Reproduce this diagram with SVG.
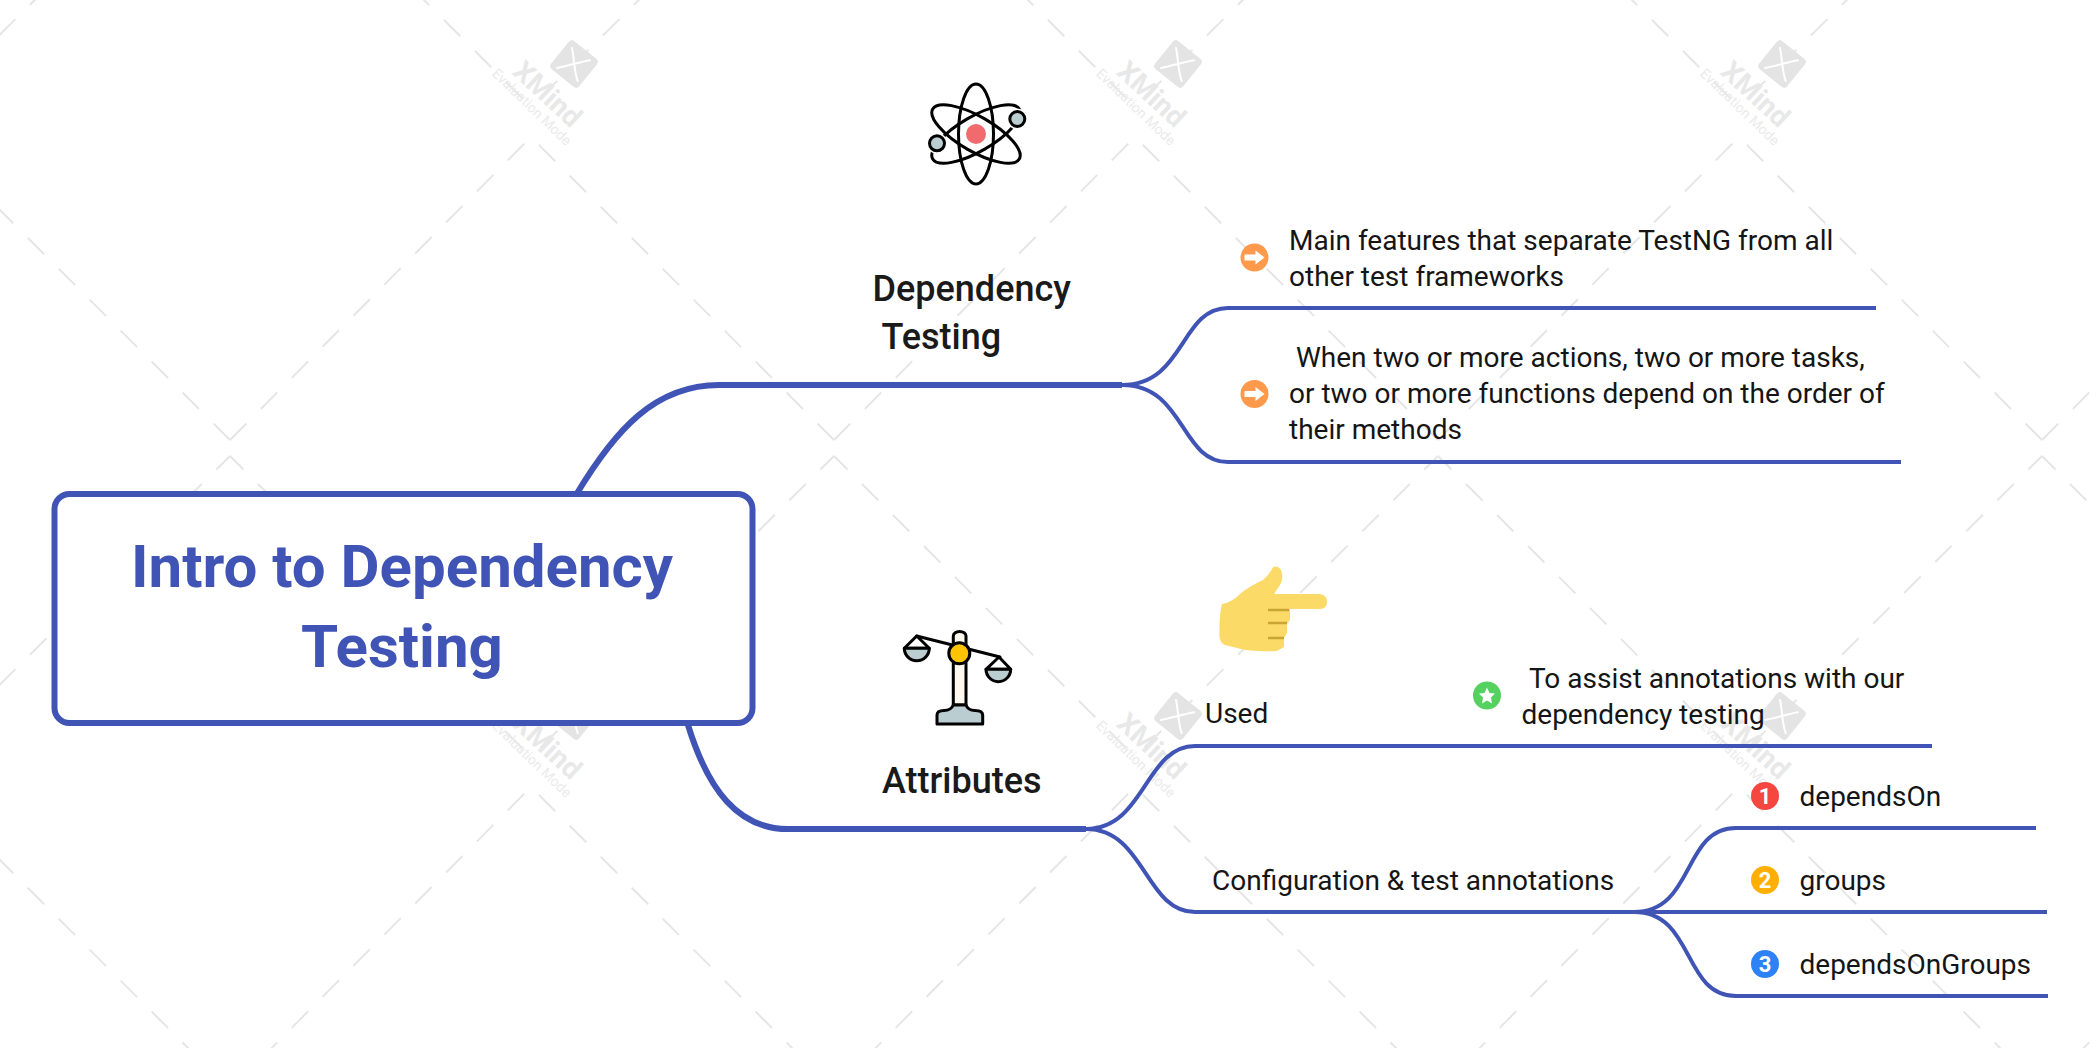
<svg xmlns="http://www.w3.org/2000/svg" xmlns:xlink="http://www.w3.org/1999/xlink" width="2098" height="1048" viewBox="0 0 2098 1048">
<style>
text{font-family:Roboto,"Liberation Sans",sans-serif}
.t{font-size:28px;fill:#151515}
.h{font-size:36px;font-weight:500;fill:#1a1a1a}
.c{font-size:60px;font-weight:700;fill:#4054B6;text-anchor:middle}
.n{font-size:22px;font-weight:700;fill:#fff;text-anchor:middle}
.thick{fill:none;stroke:#4054B6;stroke-width:6}
.thin{fill:none;stroke:#4054B6;stroke-width:4}
.wl{stroke:#E6E6E6;stroke-width:2;fill:none}
.d2{stroke-dasharray:23.3 20.5}
.d1{stroke-dasharray:23.3 20.5;stroke-dashoffset:4.2}
.wm1{font-size:28px;font-weight:700;fill:#E8E8E8;text-anchor:middle}
.wm2{font-size:14px;fill:#EBEBEB;text-anchor:middle}
.k{stroke:#000;stroke-width:3;stroke-linejoin:round;stroke-linecap:round}
</style>
<defs>
<g id="tile">
<path class="wl d2" d="M230,440L531,137"/>
<path class="wl d2" d="M834,440L531,137"/>
<path class="wl d1" d="M230,456L531,757"/>
<path class="wl d1" d="M834,456L531,757"/>
</g>
<g id="wmlogo">
<rect x="-18" y="-18" width="36" height="36" rx="4" fill="#E4E4E4" transform="rotate(39)"/>
<path d="M-2,-16C0,-8 0,8 3.700,17M-17,4C-6,2 6,-2 16,-3.700" fill="none" stroke="#fff" stroke-width="2" stroke-linecap="round"/>
</g>
</defs>
<rect width="2098" height="1048" fill="#fff"/>
<g id="watermark">
<use href="#tile" x="-604" y="-650"/><use href="#tile" x="0" y="-650"/><use href="#tile" x="604" y="-650"/><use href="#tile" x="1208" y="-650"/><use href="#tile" x="1812" y="-650"/>
<use href="#tile" x="-604" y="0"/><use href="#tile" x="0" y="0"/><use href="#tile" x="604" y="0"/><use href="#tile" x="1208" y="0"/><use href="#tile" x="1812" y="0"/>
<use href="#tile" x="-604" y="650"/><use href="#tile" x="0" y="650"/><use href="#tile" x="604" y="650"/><use href="#tile" x="1208" y="650"/><use href="#tile" x="1812" y="650"/>
<g transform="translate(574,64)"><use href="#wmlogo"/><text class="wm1" transform="translate(-33,37) rotate(43)">XMind</text><text class="wm2" transform="translate(-45.500,46.500) rotate(44)">Evaluation Mode</text></g>
<g transform="translate(1178,64)"><use href="#wmlogo"/><text class="wm1" transform="translate(-33,37) rotate(43)">XMind</text><text class="wm2" transform="translate(-45.500,46.500) rotate(44)">Evaluation Mode</text></g>
<g transform="translate(1782,64)"><use href="#wmlogo"/><text class="wm1" transform="translate(-33,37) rotate(43)">XMind</text><text class="wm2" transform="translate(-45.500,46.500) rotate(44)">Evaluation Mode</text></g>
<g transform="translate(574,716)"><use href="#wmlogo"/><text class="wm1" transform="translate(-33,37) rotate(43)">XMind</text><text class="wm2" transform="translate(-45.500,46.500) rotate(44)">Evaluation Mode</text></g>
<g transform="translate(1178,716)"><use href="#wmlogo"/><text class="wm1" transform="translate(-33,37) rotate(43)">XMind</text><text class="wm2" transform="translate(-45.500,46.500) rotate(44)">Evaluation Mode</text></g>
<g transform="translate(1782,716)"><use href="#wmlogo"/><text class="wm1" transform="translate(-33,37) rotate(43)">XMind</text><text class="wm2" transform="translate(-45.500,46.500) rotate(44)">Evaluation Mode</text></g>
</g>
<g id="connectors">
<path class="thick" d="M576,495C615,430 655,385 719,385H1122"/>
<path class="thick" d="M688,725C708,790 738,829 788,829H1086"/>
<path class="thin" d="M1122,385C1185,385 1180,308 1228,308H1876"/>
<path class="thin" d="M1122,385C1185,385 1180,462 1228,462H1901"/>
<path class="thin" d="M1086,829C1145,829 1145,746 1195,746H1932"/>
<path class="thin" d="M1086,829C1145,829 1145,912 1195,912H1634"/>
<path class="thin" d="M1634,912C1695,912 1682,828 1736,828H2036"/>
<path class="thin" d="M1634,912H2047"/>
<path class="thin" d="M1634,912C1695,912 1682,996 1736,996H2048"/>
</g>
<g id="central">
<rect x="54.500" y="494" width="698" height="229" rx="15" fill="#fff" stroke="#4054B6" stroke-width="6"/>
<text class="c" x="402" y="587">Intro to Dependency</text>
<text class="c" x="402" y="667">Testing</text>
</g>
<g id="dependency-testing">
<g fill="none" class="k">
<ellipse cx="976" cy="134" rx="17.500" ry="50"/>
<ellipse cx="976" cy="134" rx="50" ry="17.500" transform="rotate(30 976 134)"/>
<ellipse cx="976" cy="134" rx="50" ry="17.500" transform="rotate(-30 976 134)"/>
</g>
<circle cx="976" cy="134" r="10" fill="#F06A6E"/>
<circle cx="1017.300" cy="119" r="10.500" fill="#fff"/>
<circle cx="937" cy="143.300" r="10.500" fill="#fff"/>
<circle cx="1017.300" cy="119" r="7.500" fill="#BACDD0" class="k"/>
<circle cx="937" cy="143.300" r="7.500" fill="#BACDD0" class="k"/>
<text class="h" x="872.500" y="301">Dependency</text>
<text class="h" x="881.500" y="349">Testing</text>
</g>
<g id="feature-1">
<circle cx="1254.500" cy="257.500" r="14" fill="#FF9A4D"/>
<path d="M1244.500,254.500H1255.500V250.500L1264.500,257.500L1255.500,264.500V260.500H1244.500Z" fill="#fff"/>
<text class="t" x="1289" y="250">Main features that separate TestNG from all</text>
<text class="t" x="1289" y="286">other test frameworks</text>
</g>
<g id="feature-2">
<circle cx="1254.500" cy="394" r="14" fill="#FF9A4D"/>
<path d="M1244.500,391H1255.500V387L1264.500,394L1255.500,401V397H1244.500Z" fill="#fff"/>
<text class="t" x="1296" y="367">When two or more actions, two or more tasks,</text>
<text class="t" x="1289" y="403">or two or more functions depend on the order of</text>
<text class="t" x="1289" y="439">their methods</text>
</g>
<g id="attributes">
<path d="M953.300,705V636a6.300,4.500 0 0 1 12.700,0V705Z" fill="#FFF8EE" class="k"/>
<path d="M937,724V715Q937,710.500 944,710.500Q951,710.500 953.300,705H966Q968,710.500 975,710.500Q982.700,710.500 982.700,715V724Z" fill="#BACDD0" class="k"/>
<path d="M916.700,636L1000,657" class="k" fill="none"/>
<path d="M904.300,648.300L916.700,636L929.300,648.300Z" fill="#fff" class="k"/>
<path d="M904.300,648.300H929.300A12.500,12.500 0 0 1 904.300,648.300Z" fill="#BACDD0" class="k"/>
<path d="M986,669.300L999,657L1010.700,669.300Z" fill="#fff" class="k"/>
<path d="M986,669.300H1010.700A12.350,12.350 0 0 1 986,669.300Z" fill="#BACDD0" class="k"/>
<circle cx="959.300" cy="653.300" r="10.500" fill="#FFC400" class="k"/>
<text class="h" x="882" y="793">Attributes</text>
</g>
<g id="used">
<path d="M1222,604Q1233,602 1241,593Q1250,586 1263,580Q1270,574 1273,567Q1278,565 1281,570Q1284,578 1280,585L1274,594H1320Q1327,595 1327,602Q1327,609 1320,609H1290V620L1287,624V633L1284,638V647L1277,651Q1265,652 1245,650L1225,645Q1220,643 1219.500,636Q1219,615 1222,604Z" fill="#FCDA68"/>
<path d="M1268,610H1289M1268,623H1287M1268,638H1284" stroke="#C9A534" stroke-width="2.500" fill="none"/>
<text class="t" x="1205" y="723">Used</text>
</g>
<g id="used-detail">
<circle cx="1487" cy="695.500" r="14" fill="#54D15F"/>
<path d="M1487,687.500L1489.500,693L1495,693.500L1491,697.500L1492,703.500L1487,700.500L1482,703.500L1483,697.500L1479,693.500L1484.500,693Z" fill="#fff"/>
<text class="t" x="1529" y="688">To assist annotations with our</text>
<text class="t" x="1521.500" y="724">dependency testing</text>
</g>
<g id="config">
<text class="t" x="1212" y="890">Configuration &amp; test annotations</text>
</g>
<g id="depends-on">
<circle cx="1765" cy="796" r="14" fill="#F5473F"/>
<text class="n" x="1765" y="804">1</text>
<text class="t" x="1799.500" y="806">dependsOn</text>
</g>
<g id="groups">
<circle cx="1765" cy="880" r="14" fill="#FFAF02"/>
<text class="n" x="1765" y="888">2</text>
<text class="t" x="1799.500" y="890">groups</text>
</g>
<g id="depends-on-groups">
<circle cx="1765" cy="964" r="14" fill="#2C82F6"/>
<text class="n" x="1765" y="972">3</text>
<text class="t" x="1799.500" y="974">dependsOnGroups</text>
</g>
</svg>
